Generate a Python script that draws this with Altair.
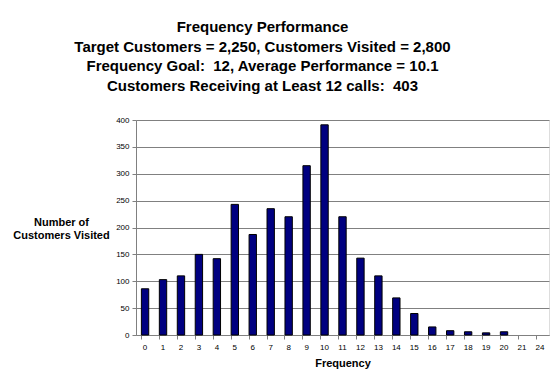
import altair as alt
import pandas as pd

frequency = ["0", "1", "2", "3", "4", "5", "6", "7", "8", "9", "10", "11",
             "12", "13", "14", "15", "16", "17", "18", "19", "20", "21", "24"]
customers = [86, 103, 110, 150, 142, 243, 187, 235, 220, 315, 391, 220,
             143, 110, 69, 40, 15, 8, 6, 4, 6, 0, 0]
title_lines = [
    "Frequency Performance",
    "Target Customers = 2,250, Customers Visited = 2,800",
    "Frequency Goal:\u00a0 12, Average Performance = 10.1",
    "Customers Receiving at Least 12 calls:\u00a0 403",
]

df = pd.DataFrame({"freq": frequency, "count": customers})
FONT = "Liberation Sans"

chart = alt.Chart(df).mark_bar(
    color="#000080", stroke="#000000", strokeWidth=1
).encode(
    x=alt.X("freq:O", sort=frequency,
            scale=alt.Scale(paddingInner=0.59, paddingOuter=0.3),
            axis=alt.Axis(title="Frequency", labelAngle=0, labelFontSize=8,
                          labelFont=FONT, labelColor="#000000",
                          titleFont=FONT, titleFontSize=11, titleFontWeight="bold",
                          titleColor="#000000", titleY=28, titleBaseline="middle",
                          domainColor="#808080", tickColor="#808080", tickSize=4,
                          bandPosition=0, labelPadding=4)),
    y=alt.Y("count:Q", scale=alt.Scale(domain=[0, 400], nice=False),
            axis=alt.Axis(title=["Number of", "Customers Visited"],
                          values=list(range(0, 401, 50)),
                          titleAngle=0, titleAlign="center", titleBaseline="middle",
                          titleX=-75, titleY=102, titleLineHeight=13,
                          titleFont=FONT, titleFontSize=11, titleFontWeight="bold",
                          titleColor="#000000",
                          labelFontSize=8, labelFont=FONT, labelColor="#000000",
                          domainColor="#808080", tickColor="#808080", tickSize=4,
                          gridColor="#808080", gridWidth=1, labelPadding=3)),
    strokeOpacity=alt.condition("datum.count > 0", alt.value(1), alt.value(0)),
).properties(
    width=413, height=215,
    autosize=alt.AutoSizeParams(type="none"),
    padding={"left": 128, "top": 112, "right": 1, "bottom": 40},
    title=alt.Title(title_lines, anchor="middle", frame="group", dx=-80,
                    font=FONT, fontSize=15, fontWeight="bold", color="#000000",
                    lineHeight=19.7, offset=22),
).configure_view(stroke=None).configure(background="#ffffff")

chart.save("out.html", embed_options={"renderer": "svg", "actions": False})
